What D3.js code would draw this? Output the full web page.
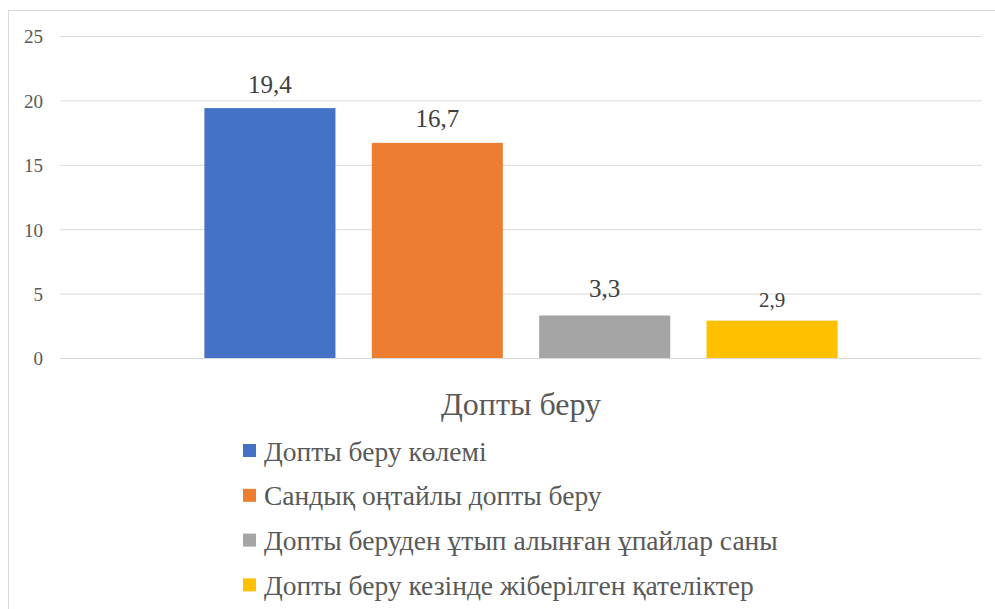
<!DOCTYPE html>
<html><head><meta charset="utf-8">
<script src="https://cdn.jsdelivr.net/npm/d3@7"></script>
<style>body{margin:0;background:#fff}svg{display:block}</style>
</head><body><svg id="c" width="995" height="609"></svg>
<script>
const category = "Допты беру";
const seriesNames = ["Допты беру көлемі","Сандық оңтайлы допты беру","Допты беруден ұтып алынған ұпайлар саны","Допты беру кезінде жіберілген қателіктер"];
const values = [19.4, 16.7, 3.3, 2.9];
const labels = ["19,4","16,7","3,3","2,9"];
const colors = ["#4472C4","#ED7D31","#A5A5A5","#FFC000"];
const yTicks = [0,5,10,15,20,25];
const FONT = "Liberation Serif, DejaVu Serif, serif";

const svg = d3.select("#c");
svg.append("line").attr("x1",8).attr("x2",995).attr("y1",10.5).attr("y2",10.5).attr("stroke","#d9d9d9");
svg.append("line").attr("x1",8.5).attr("x2",8.5).attr("y1",10).attr("y2",609).attr("stroke","#d9d9d9");

const x0 = d3.scaleBand().domain([category]).range([60,982]).paddingInner(0).paddingOuter(0.228);
const x1 = d3.scaleBand().domain(seriesNames).range([x0(category), x0(category)+x0.bandwidth()]).paddingInner(0.217);
const y = d3.scaleLinear().domain([0,25]).range([358,36]);

const ax = d3.axisLeft(y).tickValues(yTicks).tickSize(-922).tickPadding(17).tickFormat(d3.format("d"));
const g = svg.append("g").attr("transform","translate(60,0)").call(ax)
  .attr("font-family",FONT).attr("font-size",19);
g.select(".domain").remove();
g.selectAll(".tick line").attr("stroke","#d9d9d9").attr("stroke-width",1);
g.selectAll(".tick text").attr("fill","#595959").style("font-size","19px").attr("dy","0.36em");

svg.selectAll("rect.bar").data(values).join("rect").attr("class","bar")
  .attr("x",(d,i)=>x1(seriesNames[i])).attr("width",x1.bandwidth())
  .attr("y",d=>y(d)).attr("height",d=>y(0)-y(d)).attr("fill",(d,i)=>colors[i]);

const lblSizes=[25,25,25,21];
const lblOff=[15,16,18,14];
svg.selectAll("text.lbl").data(values).join("text").attr("class","lbl")
  .attr("x",(d,i)=>x1(seriesNames[i])+x1.bandwidth()/2).attr("y",(d,i)=>y(d)-lblOff[i])
  .attr("text-anchor","middle").attr("fill","#404040").attr("font-family",FONT)
  .attr("font-size",(d,i)=>lblSizes[i]).text((d,i)=>labels[i]);

svg.append("text").attr("x",521).attr("y",415).attr("text-anchor","middle").attr("fill","#595959")
  .attr("font-family",FONT).attr("font-size",32).text(category);

const leg = svg.selectAll("g.leg").data(seriesNames).join("g").attr("class","leg")
  .attr("transform",(d,i)=>`translate(243,${450.5+i*44.8})`);
leg.append("rect").attr("x",0).attr("y",-6.5).attr("width",13).attr("height",13).attr("fill",(d,i)=>colors[i]);
leg.append("text").attr("x",21).attr("y",10).attr("fill","#595959").attr("font-family",FONT).attr("font-size",27.5).text(d=>d);
</script></body></html>
